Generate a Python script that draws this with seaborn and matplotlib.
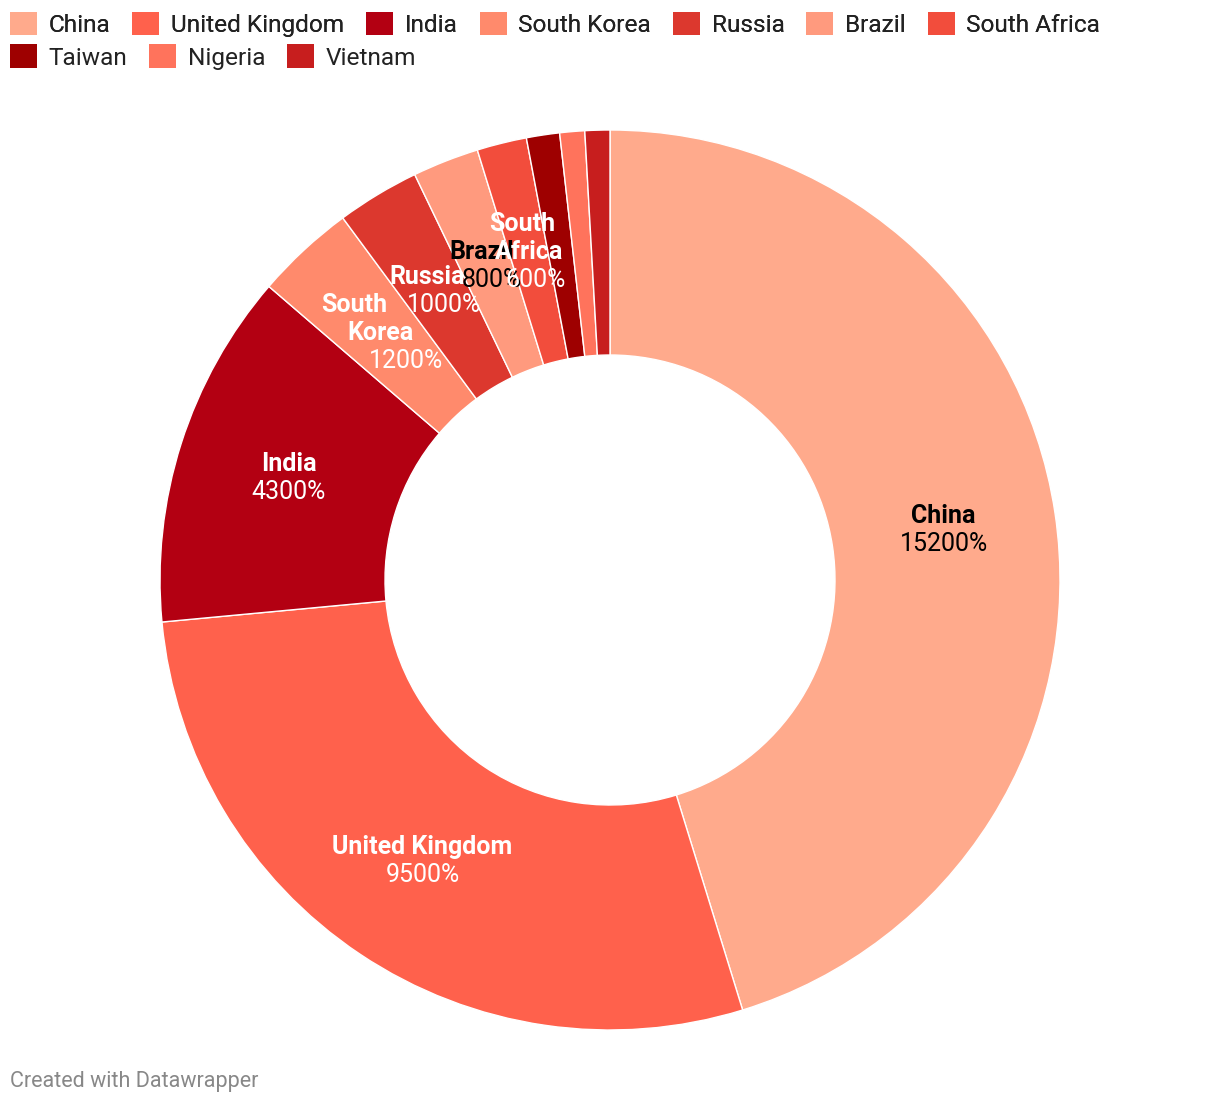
import matplotlib
matplotlib.use("Agg")
import numpy as np
import matplotlib.pyplot as plt
import matplotlib.colors as mcolors
import seaborn as sns

# --- data ---
countries = ["China", "United Kingdom", "India", "South Korea", "Russia",
             "Brazil", "South Africa", "Taiwan", "Nigeria", "Vietnam"]
values = [15200, 9500, 4300, 1200, 1000, 800, 600, 400, 300, 300]
pct_labels = ["15200%", "9500%", "4300%", "1200%", "1000%",
              "800%", "600%", "400%", "300%", "300%"]
label_names = ["China", "United Kingdom", "India", "South\nKorea", "Russia",
               "Brazil", "South\nAfrica", "Taiwan", "Nigeria", "Vietnam"]
colors = ["#ffaa8c", "#ff614c", "#b30012", "#ff8a6c", "#dc382e",
          "#ff9a7e", "#f24d3c", "#9e0000", "#ff735c", "#c71e1e"]

sns.set_theme(style="white")
plt.rcParams["font.family"] = ["Roboto", "DejaVu Sans"]

W, H = 1220, 1106
fig = plt.figure(figsize=(W / 100, H / 100), dpi=100)
ax = fig.add_axes([160 / W, (H - 1030) / H, 900 / W, 900 / H])

palette = sns.color_palette(colors)
wedges, _ = ax.pie(values, colors=palette, startangle=90, counterclock=False,
                   radius=1.0,
                   wedgeprops=dict(width=0.5, edgecolor="white", linewidth=1))
ax.set_xlim(-1, 1)
ax.set_ylim(-1, 1)
ax.set_aspect("equal")
ax.axis("off")

total = sum(values)


def luminance(c):
    r, g, b = mcolors.to_rgb(c)
    def ch(v):
        return v / 12.92 if v <= 0.03928 else ((v + 0.055) / 1.055) ** 2.4
    return 0.2126 * ch(r) + 0.7152 * ch(g) + 0.0722 * ch(b)


line_h = 28  # pixels
for w, name, pct, val, col in zip(wedges, label_names, pct_labels, values, colors):
    frac = val / total
    if frac < 0.015:
        continue  # tiny slices get no label
    mid = np.deg2rad((w.theta1 + w.theta2) / 2)
    r = 0.75
    x, y = r * np.cos(mid), r * np.sin(mid)
    txt_col = "black" if luminance(col) > 0.43 else "white"
    lines = [(l, "bold") for l in name.split("\n")] + [(pct, "normal")]
    n = len(lines)
    # narrow slices: stack the lines along the radial direction
    slope = np.cos(mid) / np.sin(mid) if frac < 0.05 else 0.0
    for i, (s, wt) in enumerate(lines):
        off = ((n - 1) / 2 - i) * line_h
        ax.annotate(s, xy=(x, y), xytext=(off * slope, off),
                    textcoords="offset pixels",
                    ha="center", va="center", fontsize=18, fontweight=wt,
                    color=txt_col)

# legend split into two flowing rows
leg_kw = dict(loc="center left", frameon=False, fontsize=17.6,
              handlelength=1.1, handleheight=1.1, handletextpad=0.48,
              columnspacing=0.9, borderaxespad=0.0, borderpad=0.0)
leg1 = fig.legend(wedges[:7], countries[:7], ncol=7,
                  bbox_to_anchor=(10 / W, 1 - 24.5 / H), **leg_kw)
fig.add_artist(leg1)
leg2 = fig.legend(wedges[7:], countries[7:], ncol=3,
                  bbox_to_anchor=(10 / W, 1 - 57 / H), **leg_kw)
for leg in (leg1, leg2):
    for h in leg.legend_handles:
        h.set_edgecolor("none")
    for t in leg.get_texts():
        t.set_color("#222222")

fig.text(10 / W, 1 - 1082 / H, "Created with Datawrapper", fontsize=15.5,
         color="#888888", ha="left", va="center")

fig.savefig("out.png", dpi=100, facecolor="white")
